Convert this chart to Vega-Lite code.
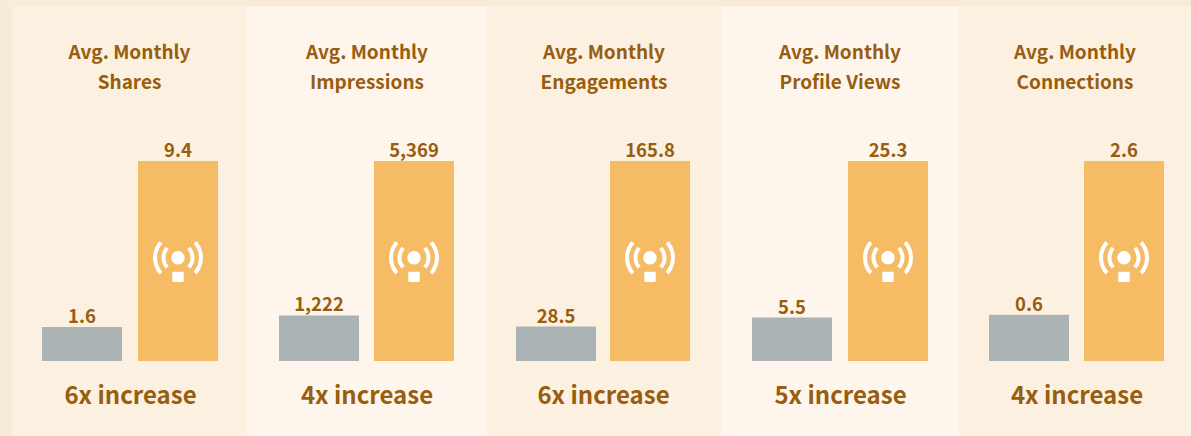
{"$schema":"https://vega.github.io/schema/vega-lite/v6.json","background":"#f8ebd8","padding":{"left":12,"top":6,"right":0,"bottom":0},"spacing":0,"config":{"concat":{"spacing":0},"view":{"stroke":null},"title":{"font":"Noto Sans CJK SC","fontSize":19,"fontWeight":"bold","color":"#985d0e","lineHeight":30,"anchor":"middle","offset":-87},"axis":{"font":"Noto Sans CJK SC"}},"datasets":{"rows":[
{"panel":"Shares","period":"before","value":1.6,"label":"1.6","mid":4.7},
{"panel":"Shares","period":"after","value":9.4,"label":"9.4","mid":4.7},
{"panel":"Impressions","period":"before","value":1222,"label":"1,222","mid":2684.5},
{"panel":"Impressions","period":"after","value":5369,"label":"5,369","mid":2684.5},
{"panel":"Engagements","period":"before","value":28.5,"label":"28.5","mid":82.9},
{"panel":"Engagements","period":"after","value":165.8,"label":"165.8","mid":82.9},
{"panel":"Profile Views","period":"before","value":5.5,"label":"5.5","mid":12.65},
{"panel":"Profile Views","period":"after","value":25.3,"label":"25.3","mid":12.65},
{"panel":"Connections","period":"before","value":0.6,"label":"0.6","mid":1.3},
{"panel":"Connections","period":"after","value":2.6,"label":"2.6","mid":1.3}
]},
"hconcat":[
{"width":235,"height":430,"view":{"fill":"#fcf0e0"},"title":{"text":["Avg. Monthly","Shares"]},"data":{"name":"rows"},"transform":[{"filter":"datum.panel === 'Shares'"}],
"encoding":{"x":{"field":"period","type":"nominal","sort":["before","after"],"scale":{"type":"point","range":[70,166],"padding":0},"axis":{"title":"6x increase","titleFont":"Noto Sans CJK SC","titleFontSize":24,"titleFontWeight":"bold","titleColor":"#985d0e","titleY":-52,"labels":false,"ticks":false,"domain":false,"grid":false}},"y":{"field":"value","type":"quantitative","scale":{"domain":[0,9.4],"range":[355,155]},"axis":null}},
"layer":[
{"mark":{"type":"bar","width":80},"encoding":{"color":{"field":"period","type":"nominal","scale":{"domain":["before","after"],"range":["#acb3b4","#f5bb65"]},"legend":null}}},
{"mark":{"type":"text","dy":-10,"font":"Noto Sans CJK SC","fontSize":18.5,"fontWeight":"bold","color":"#985d0e"},"encoding":{"text":{"field":"label","type":"nominal"}}},
{"transform":[{"filter":"datum.period === 'after'"}],"mark":{"type":"point","filled":true,"opacity":1,"color":"#ffffff","size":3600,"shape":"M0.62 -0.667A0.833 0.833 0 0 1 0.62 0.447L0.52 0.358A0.7 0.7 0 0 0 0.52 -0.578ZM-0.62 -0.667A0.833 0.833 0 0 0 -0.62 0.447L-0.52 0.358A0.7 0.7 0 0 1 -0.52 -0.578ZM0.409 -0.478A0.55 0.55 0 0 1 0.409 0.258L0.31 0.169A0.417 0.417 0 0 0 0.31 -0.389ZM-0.409 -0.478A0.55 0.55 0 0 0 -0.409 0.258L-0.31 0.169A0.417 0.417 0 0 1 -0.31 -0.389ZM-0.223 -0.11A0.223 0.223 0 1 1 0.223 -0.11A0.223 0.223 0 1 1 -0.223 -0.11ZM-0.19 0.357L0.19 0.357L0.19 0.7L-0.19 0.7Z"},"encoding":{"y":{"field":"mid","type":"quantitative"}}}
]},
{"width":240,"height":430,"view":{"fill":"#fef6ec"},"title":{"text":["Avg. Monthly","Impressions"]},"data":{"name":"rows"},"transform":[{"filter":"datum.panel === 'Impressions'"}],
"encoding":{"x":{"field":"period","type":"nominal","sort":["before","after"],"scale":{"type":"point","range":[72,167],"padding":0},"axis":{"title":"4x increase","titleFont":"Noto Sans CJK SC","titleFontSize":24,"titleFontWeight":"bold","titleColor":"#985d0e","titleY":-52,"labels":false,"ticks":false,"domain":false,"grid":false}},"y":{"field":"value","type":"quantitative","scale":{"domain":[0,5369],"range":[355,155]},"axis":null}},
"layer":[
{"mark":{"type":"bar","width":80},"encoding":{"color":{"field":"period","type":"nominal","scale":{"domain":["before","after"],"range":["#acb3b4","#f5bb65"]},"legend":null}}},
{"mark":{"type":"text","dy":-10,"font":"Noto Sans CJK SC","fontSize":18.5,"fontWeight":"bold","color":"#985d0e"},"encoding":{"text":{"field":"label","type":"nominal"}}},
{"transform":[{"filter":"datum.period === 'after'"}],"mark":{"type":"point","filled":true,"opacity":1,"color":"#ffffff","size":3600,"shape":"M0.62 -0.667A0.833 0.833 0 0 1 0.62 0.447L0.52 0.358A0.7 0.7 0 0 0 0.52 -0.578ZM-0.62 -0.667A0.833 0.833 0 0 0 -0.62 0.447L-0.52 0.358A0.7 0.7 0 0 1 -0.52 -0.578ZM0.409 -0.478A0.55 0.55 0 0 1 0.409 0.258L0.31 0.169A0.417 0.417 0 0 0 0.31 -0.389ZM-0.409 -0.478A0.55 0.55 0 0 0 -0.409 0.258L-0.31 0.169A0.417 0.417 0 0 1 -0.31 -0.389ZM-0.223 -0.11A0.223 0.223 0 1 1 0.223 -0.11A0.223 0.223 0 1 1 -0.223 -0.11ZM-0.19 0.357L0.19 0.357L0.19 0.7L-0.19 0.7Z"},"encoding":{"y":{"field":"mid","type":"quantitative"}}}
]},
{"width":234,"height":430,"view":{"fill":"#fcf0e0"},"title":{"text":["Avg. Monthly","Engagements"]},"data":{"name":"rows"},"transform":[{"filter":"datum.panel === 'Engagements'"}],
"encoding":{"x":{"field":"period","type":"nominal","sort":["before","after"],"scale":{"type":"point","range":[69,163],"padding":0},"axis":{"title":"6x increase","titleFont":"Noto Sans CJK SC","titleFontSize":24,"titleFontWeight":"bold","titleColor":"#985d0e","titleY":-52,"labels":false,"ticks":false,"domain":false,"grid":false}},"y":{"field":"value","type":"quantitative","scale":{"domain":[0,165.8],"range":[355,155]},"axis":null}},
"layer":[
{"mark":{"type":"bar","width":80},"encoding":{"color":{"field":"period","type":"nominal","scale":{"domain":["before","after"],"range":["#acb3b4","#f5bb65"]},"legend":null}}},
{"mark":{"type":"text","dy":-10,"font":"Noto Sans CJK SC","fontSize":18.5,"fontWeight":"bold","color":"#985d0e"},"encoding":{"text":{"field":"label","type":"nominal"}}},
{"transform":[{"filter":"datum.period === 'after'"}],"mark":{"type":"point","filled":true,"opacity":1,"color":"#ffffff","size":3600,"shape":"M0.62 -0.667A0.833 0.833 0 0 1 0.62 0.447L0.52 0.358A0.7 0.7 0 0 0 0.52 -0.578ZM-0.62 -0.667A0.833 0.833 0 0 0 -0.62 0.447L-0.52 0.358A0.7 0.7 0 0 1 -0.52 -0.578ZM0.409 -0.478A0.55 0.55 0 0 1 0.409 0.258L0.31 0.169A0.417 0.417 0 0 0 0.31 -0.389ZM-0.409 -0.478A0.55 0.55 0 0 0 -0.409 0.258L-0.31 0.169A0.417 0.417 0 0 1 -0.31 -0.389ZM-0.223 -0.11A0.223 0.223 0 1 1 0.223 -0.11A0.223 0.223 0 1 1 -0.223 -0.11ZM-0.19 0.357L0.19 0.357L0.19 0.7L-0.19 0.7Z"},"encoding":{"y":{"field":"mid","type":"quantitative"}}}
]},
{"width":238,"height":430,"view":{"fill":"#fef6ec"},"title":{"text":["Avg. Monthly","Profile Views"]},"data":{"name":"rows"},"transform":[{"filter":"datum.panel === 'Profile Views'"}],
"encoding":{"x":{"field":"period","type":"nominal","sort":["before","after"],"scale":{"type":"point","range":[71,167],"padding":0},"axis":{"title":"5x increase","titleFont":"Noto Sans CJK SC","titleFontSize":24,"titleFontWeight":"bold","titleColor":"#985d0e","titleY":-52,"labels":false,"ticks":false,"domain":false,"grid":false}},"y":{"field":"value","type":"quantitative","scale":{"domain":[0,25.3],"range":[355,155]},"axis":null}},
"layer":[
{"mark":{"type":"bar","width":80},"encoding":{"color":{"field":"period","type":"nominal","scale":{"domain":["before","after"],"range":["#acb3b4","#f5bb65"]},"legend":null}}},
{"mark":{"type":"text","dy":-10,"font":"Noto Sans CJK SC","fontSize":18.5,"fontWeight":"bold","color":"#985d0e"},"encoding":{"text":{"field":"label","type":"nominal"}}},
{"transform":[{"filter":"datum.period === 'after'"}],"mark":{"type":"point","filled":true,"opacity":1,"color":"#ffffff","size":3600,"shape":"M0.62 -0.667A0.833 0.833 0 0 1 0.62 0.447L0.52 0.358A0.7 0.7 0 0 0 0.52 -0.578ZM-0.62 -0.667A0.833 0.833 0 0 0 -0.62 0.447L-0.52 0.358A0.7 0.7 0 0 1 -0.52 -0.578ZM0.409 -0.478A0.55 0.55 0 0 1 0.409 0.258L0.31 0.169A0.417 0.417 0 0 0 0.31 -0.389ZM-0.409 -0.478A0.55 0.55 0 0 0 -0.409 0.258L-0.31 0.169A0.417 0.417 0 0 1 -0.31 -0.389ZM-0.223 -0.11A0.223 0.223 0 1 1 0.223 -0.11A0.223 0.223 0 1 1 -0.223 -0.11ZM-0.19 0.357L0.19 0.357L0.19 0.7L-0.19 0.7Z"},"encoding":{"y":{"field":"mid","type":"quantitative"}}}
]},
{"width":232,"height":430,"view":{"fill":"#fcf0e0"},"title":{"text":["Avg. Monthly","Connections"]},"data":{"name":"rows"},"transform":[{"filter":"datum.panel === 'Connections'"}],
"encoding":{"x":{"field":"period","type":"nominal","sort":["before","after"],"scale":{"type":"point","range":[70,165],"padding":0},"axis":{"title":"4x increase","titleFont":"Noto Sans CJK SC","titleFontSize":24,"titleFontWeight":"bold","titleColor":"#985d0e","titleY":-52,"labels":false,"ticks":false,"domain":false,"grid":false}},"y":{"field":"value","type":"quantitative","scale":{"domain":[0,2.6],"range":[355,155]},"axis":null}},
"layer":[
{"mark":{"type":"bar","width":80},"encoding":{"color":{"field":"period","type":"nominal","scale":{"domain":["before","after"],"range":["#acb3b4","#f5bb65"]},"legend":null}}},
{"mark":{"type":"text","dy":-10,"font":"Noto Sans CJK SC","fontSize":18.5,"fontWeight":"bold","color":"#985d0e"},"encoding":{"text":{"field":"label","type":"nominal"}}},
{"transform":[{"filter":"datum.period === 'after'"}],"mark":{"type":"point","filled":true,"opacity":1,"color":"#ffffff","size":3600,"shape":"M0.62 -0.667A0.833 0.833 0 0 1 0.62 0.447L0.52 0.358A0.7 0.7 0 0 0 0.52 -0.578ZM-0.62 -0.667A0.833 0.833 0 0 0 -0.62 0.447L-0.52 0.358A0.7 0.7 0 0 1 -0.52 -0.578ZM0.409 -0.478A0.55 0.55 0 0 1 0.409 0.258L0.31 0.169A0.417 0.417 0 0 0 0.31 -0.389ZM-0.409 -0.478A0.55 0.55 0 0 0 -0.409 0.258L-0.31 0.169A0.417 0.417 0 0 1 -0.31 -0.389ZM-0.223 -0.11A0.223 0.223 0 1 1 0.223 -0.11A0.223 0.223 0 1 1 -0.223 -0.11ZM-0.19 0.357L0.19 0.357L0.19 0.7L-0.19 0.7Z"},"encoding":{"y":{"field":"mid","type":"quantitative"}}}
]}
]}
